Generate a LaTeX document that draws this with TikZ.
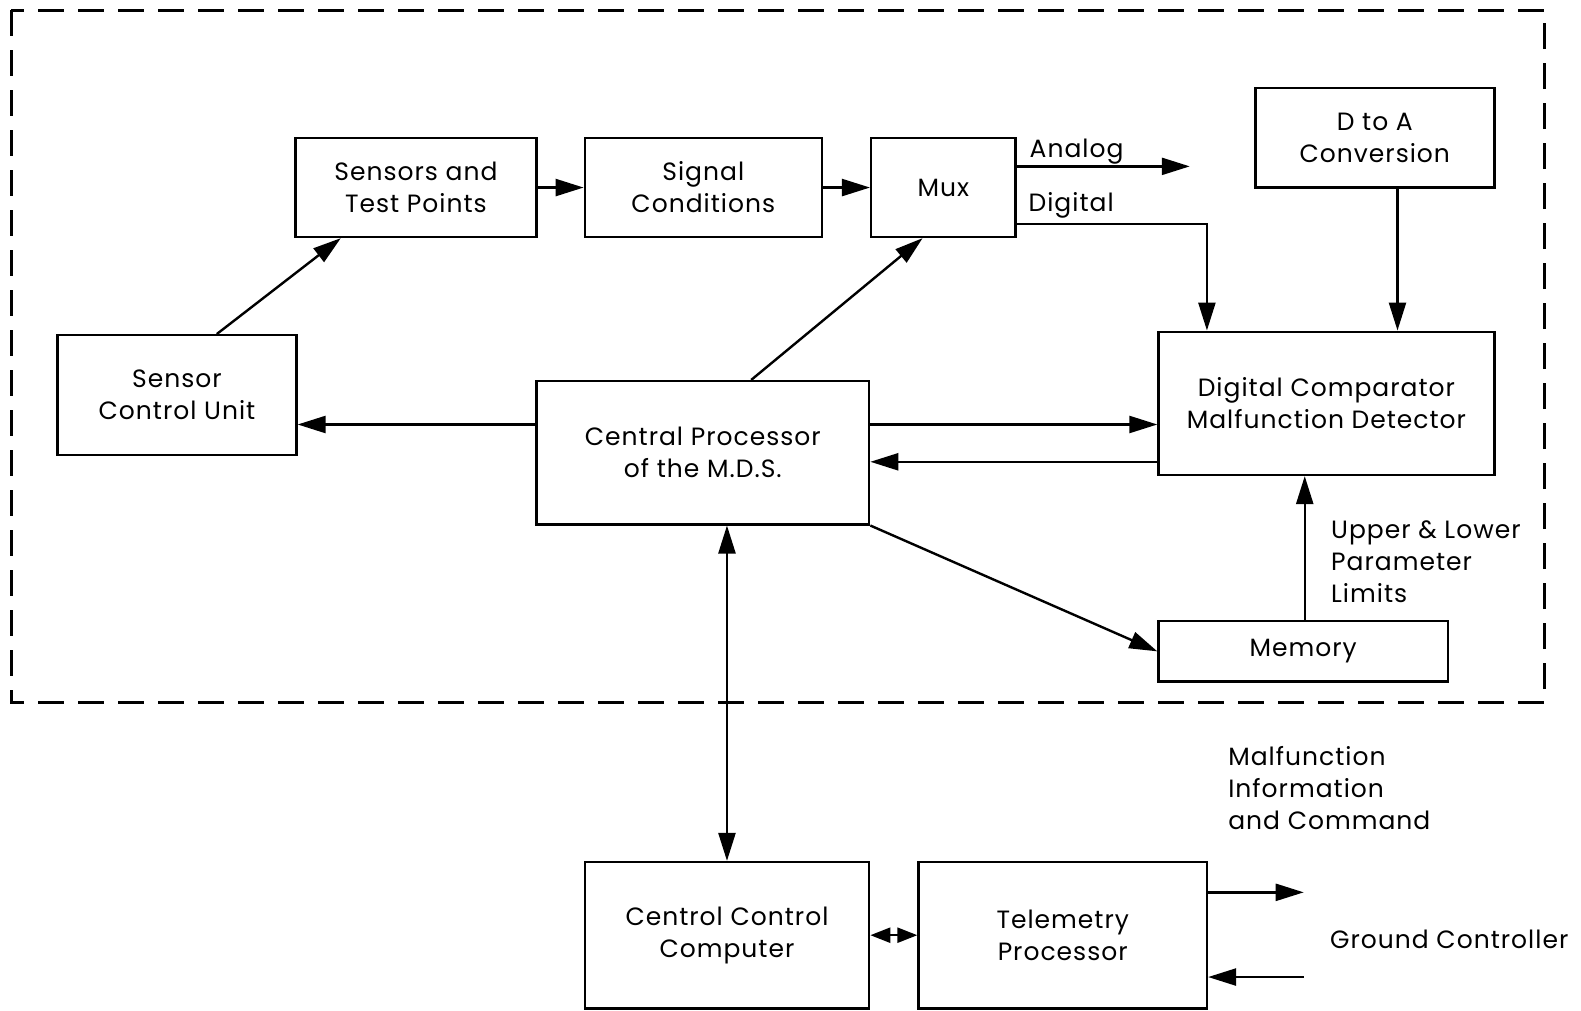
\documentclass[tikz,border=0pt]{standalone}
\usepackage{fontspec}
\setmainfont{Poppins}[LetterSpace=4]
\usetikzlibrary{arrows.meta}
\begin{document}
\begin{tikzpicture}[x=1.00829pt,y=-1.00829pt,
  font=\fontsize{25}{32}\selectfont,
  blk/.style={draw, line width=2.4pt, align=center, inner sep=0pt},
  sz/.style 2 args={minimum width=#1*1.00829pt, minimum height=#2*1.00829pt},
  wire/.style={line width=2.4pt},
  arr/.style={wire, -{Triangle[length=28pt,width=17pt]}},
  darr/.style={wire, {Triangle[length=28pt,width=17pt]}-{Triangle[length=28pt,width=17pt]}},
  sarr/.style={wire, {Triangle[length=20pt,width=15pt]}-{Triangle[length=20pt,width=15pt]}},
  lbl/.style={anchor=west, align=left, inner sep=0pt}]
\useasboundingbox (0,0) rectangle (1568,1002);

% system boundary
\draw[line width=3pt, dash pattern=on 26pt off 14pt] (11,10) rectangle (1532,697);

% blocks
\node[blk, sz={239}{98}]  (sens) at (412.5,186)  {Sensors and\\Test Points};
\node[blk, sz={235}{98}]  (sig)  at (697.5,186)  {Signal\\Conditions};
\node[blk, sz={143}{98}]  (mux)  at (935.5,186)  {Mux};
\node[blk, sz={237}{99}]  (dta)  at (1363.5,136.5) {D to A\\Conversion};
\node[blk, sz={237}{119}] (scu)  at (175.5,392) {Sensor\\Control Unit};
\node[blk, sz={330}{142}] (cp)   at (697,449)    {Central Processor\\of the M.D.S.};
\node[blk, sz={333}{142}] (dc)   at (1315.5,400) {Digital Comparator\\Malfunction Detector};
\node[blk, sz={287}{60}]  (mem)  at (1292.5,646) {Memory};
\node[blk, sz={282}{145}] (ccc)  at (721,927.5)  {Centrol Control\\Computer};
\node[blk, sz={286}{145}] (tp)   at (1054,927.5) {Telemetry\\Processor};

% free ends of open connectors
\coordinate (anaend) at (1180,165);
\coordinate (gcout) at (1293,885);
\coordinate (gcin)  at (1293,969);

% signal chain
\draw[arr] (sens.east) -- (sig.west);
\draw[arr] (sig.east) -- (mux.west);
\draw[arr] (mux.east |- anaend) -- (anaend);
\draw[arr] (mux.east |- 0,222) -| (dc.north -| 1197,0);
\draw[arr] (dta.south -| 1386,0) -- (dc.north -| 1386,0);

% processor links
\draw[arr] (scu.north -| 215,0) -- (sens.south -| 338,0);
\draw[arr] (cp.north -| 745,0) -- (mux.south -| 915,0);
\draw[arr] (cp.west |- 0,421) -- (scu.east |- 0,421);
\draw[arr] (cp.east |- 0,421) -- (dc.west |- 0,421);
\draw[arr] (dc.west |- 0,458) -- (cp.east |- 0,458);
\draw[arr] (cp.south east) -- (mem.west);
\draw[arr] (mem.north -| 1294,0) -- (dc.south -| 1294,0);
\draw[darr] (cp.south -| ccc.north) -- (ccc.north);
\draw[sarr] (ccc.east) -- (tp.west);
\draw[arr] (tp.east |- gcout) -- (gcout);
\draw[arr] (gcin) -- (tp.east |- gcin);

% labels
\node[lbl] (lana) at (1021,150) {Analog};
\node[lbl] (ldig) at (1020,204) {Digital};
\node[lbl] (llim) at (1320,557) {Upper \& Lower\\Parameter\\Limits};
\node[lbl] (lmal) at (1218,782) {Malfunction\\Information\\and Command};
\node[lbl] (lgc)  at (1319,932) {Ground Controller};
\end{tikzpicture}
\end{document}
